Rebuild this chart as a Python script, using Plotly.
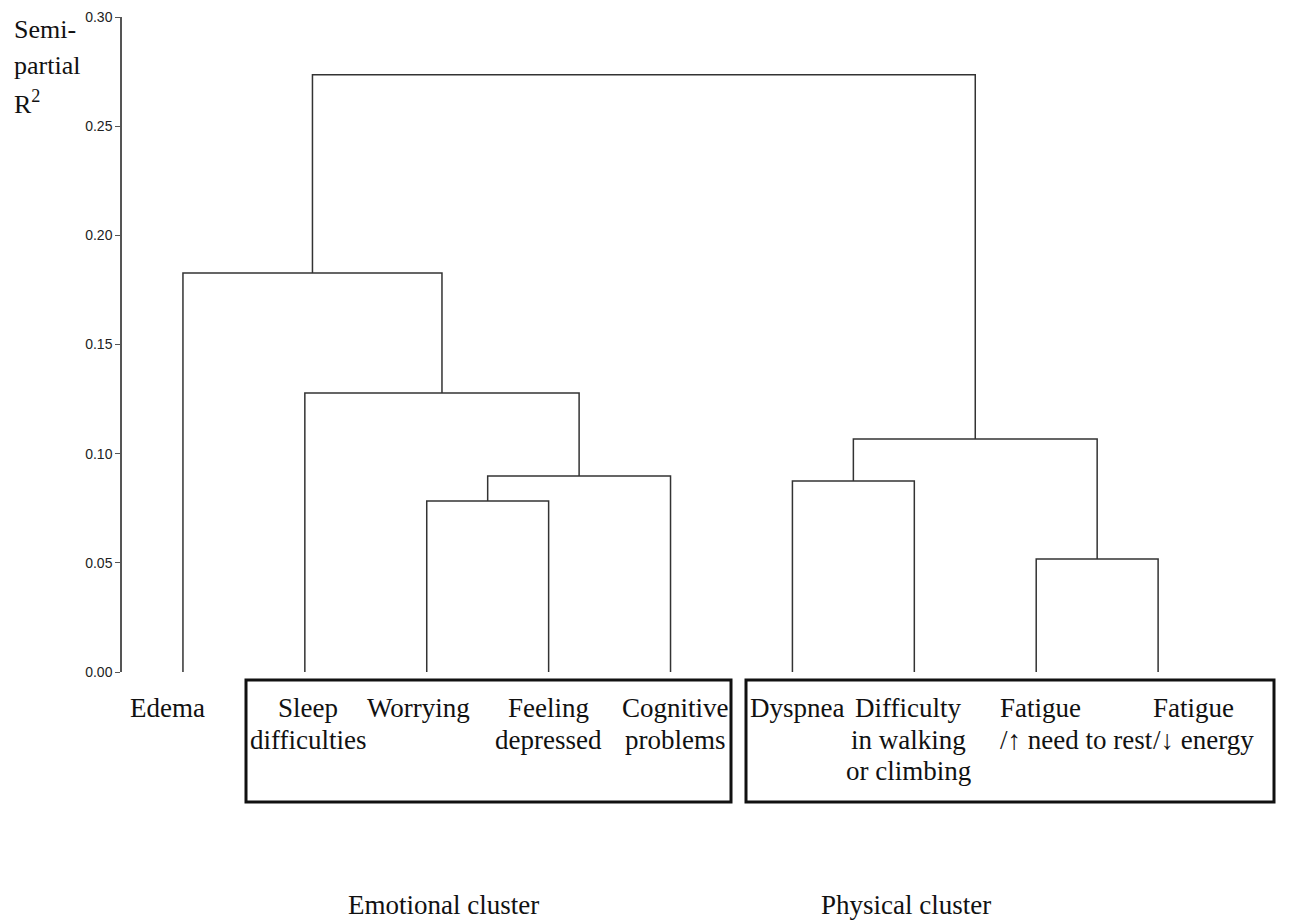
import plotly.graph_objects as go

# ---- data ----
leaf_labels = [
    "Edema",
    "Sleep<br>difficulties",
    "Worrying",
    "Feeling<br>depressed",
    "Cognitive<br>problems",
    "Dyspnea",
    "Difficulty<br>in walking<br>or climbing",
    "Fatigue<br>/\u2191 need to rest",
    "Fatigue<br>/\u2193 energy",
]
# merges: (left id, right id, semi-partial R^2); ids >= 9 are earlier merges
merge_left = [2, 9, 1, 0, 5, 7, 13, 12]
merge_right = [3, 4, 10, 11, 6, 8, 14, 15]
merge_height = [0.0783, 0.0898, 0.1278, 0.1828, 0.0875, 0.0518, 0.1067, 0.2735]
y_ticks = [0.00, 0.05, 0.10, 0.15, 0.20, 0.25, 0.30]
cluster_names = ["Emotional cluster", "Physical cluster"]

# ---- build dendrogram segments ----
n = len(leaf_labels)
pos = {i: i + 1 for i in range(n)}
hgt = {i: 0.0 for i in range(n)}
xs, ys = [], []
for k, (a, b, h) in enumerate(zip(merge_left, merge_right, merge_height)):
    xa, xb = pos[a], pos[b]
    xs += [xa, xa, xb, xb, None]
    ys += [hgt[a], h, h, hgt[b], None]
    pos[n + k] = (xa + xb) / 2
    hgt[n + k] = h

LINE = "#333333"
TXT = "#111111"
fig = go.Figure()
fig.add_trace(go.Scatter(x=xs, y=ys, mode="lines",
                         line=dict(color=LINE, width=1.5),
                         hoverinfo="skip", showlegend=False))

SERIF = "Liberation Serif, Times New Roman, serif"
W, HGT = 1289, 924
PLOT_L, PLOT_R = 122, 1280
PLOT_TOP, PLOT_BOT = 17, 672
H = PLOT_BOT - PLOT_TOP
XMIN, XMAX = 0.5, 10.0


def py(pix):
    return (PLOT_BOT - pix) / H


def dx(pix):
    return XMIN + (pix - PLOT_L) * (XMAX - XMIN) / (PLOT_R - PLOT_L)


# leaf labels, one annotation per line (style: horizontal shift / anchor)
label_style = [
    (-15, "center"), (3, "center"), (-8, "center"), (0, "center"), (5, "center"),
    (5, "center"), (-6, "center"), (-38, "left"), (-7, "left"),
]
LINE_GAP = 31.5
for i, lab in enumerate(leaf_labels):
    sh, al = label_style[i]
    for j, part in enumerate(lab.split("<br>")):
        fig.add_annotation(x=i + 1, y=py(708 + j * LINE_GAP), xref="x", yref="paper",
                           text=part, showarrow=False, xanchor=al, yanchor="middle",
                           align=al, xshift=sh,
                           font=dict(family=SERIF, size=27, color=TXT))

# cluster boxes
box_px = [(246, 731), (746, 1274)]
for x0, x1 in box_px:
    fig.add_shape(type="rect", xref="x", yref="paper", x0=dx(x0), x1=dx(x1),
                  y0=py(802), y1=py(680), line=dict(color=TXT, width=3))

cluster_px = [443, 906]
for name, cx in zip(cluster_names, cluster_px):
    fig.add_annotation(x=dx(cx), y=py(905), xref="x", yref="paper", text=name,
                       showarrow=False, xanchor="center", yanchor="middle",
                       font=dict(family=SERIF, size=27, color=TXT))

# axis title
for txt, pix in [("Semi-", 29), ("partial", 66), ("R<sup>2</sup>", 102)]:
    fig.add_annotation(x=(12 - PLOT_L) / (PLOT_R - PLOT_L), y=py(pix),
                       xref="paper", yref="paper",
                       text=txt, showarrow=False, xanchor="left", yanchor="middle",
                       font=dict(family=SERIF, size=26, color=TXT))

fig.update_layout(
    width=W, height=HGT,
    margin=dict(l=PLOT_L, r=W - PLOT_R, t=PLOT_TOP, b=HGT - PLOT_BOT),
    plot_bgcolor="white", paper_bgcolor="white",
    xaxis=dict(range=[XMIN, XMAX], visible=False, fixedrange=True),
    yaxis=dict(range=[0, 0.30], tickvals=y_ticks,
               ticktext=[f"{v:.2f}" for v in y_ticks],
               ticks="outside", ticklen=5, tickcolor="#555555", tickwidth=1.2,
               showline=True, linecolor="#555555", linewidth=1.5,
               showgrid=False, zeroline=False,
               tickfont=dict(family="Liberation Sans, Arial, sans-serif", size=14, color="#222222")),
)
fig.write_html("out.html", config={"displayModeBar": False},
               post_script="document.body.style.margin='0';")
